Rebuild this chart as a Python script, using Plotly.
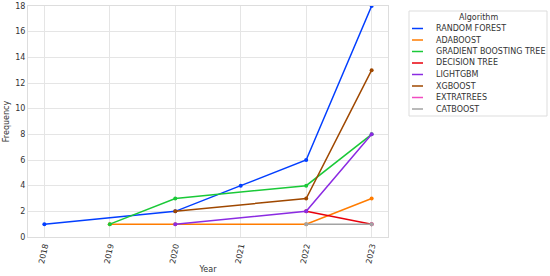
import plotly.graph_objects as go

# ------------------------------------------------------------
# Data
# ------------------------------------------------------------
algorithms = ["RANDOM FOREST", "ADABOOST", "GRADIENT BOOSTING TREE", "DECISION TREE",
              "LIGHTGBM", "XGBOOST", "EXTRATREES", "CATBOOST"]
colors = ["#023eff", "#ff7c00", "#1ac938", "#e8000b", "#8b2be2", "#9f4800", "#f14cc1", "#a3a3a3"]

rf_years = [2018, 2020, 2021, 2022, 2023]
rf_freq = [1, 2, 4, 6, 18]
ada_years = [2019, 2020, 2022, 2023]
ada_freq = [1, 1, 1, 3]
gbt_years = [2019, 2020, 2022, 2023]
gbt_freq = [1, 3, 4, 8]
dt_years = [2022, 2023]
dt_freq = [2, 1]
lgbm_years = [2020, 2022, 2023]
lgbm_freq = [1, 2, 8]
xgb_years = [2020, 2022, 2023]
xgb_freq = [2, 3, 13]
et_years = [2023]
et_freq = [1]
cat_years = [2022, 2023]
cat_freq = [1, 1]

series = [(rf_years, rf_freq), (ada_years, ada_freq), (gbt_years, gbt_freq), (dt_years, dt_freq),
          (lgbm_years, lgbm_freq), (xgb_years, xgb_freq), (et_years, et_freq), (cat_years, cat_freq)]

year_ticks = [2018, 2019, 2020, 2021, 2022, 2023]
freq_ticks = [0, 2, 4, 6, 8, 10, 12, 14, 16, 18]

FONT = "DejaVu Sans"
TXT = "#333333"

fig = go.Figure()
for name, col, (xs, ys) in zip(algorithms, colors, series):
    fig.add_trace(go.Scatter(x=xs, y=ys, mode="lines+markers", name=name,
                             line=dict(color=col, width=1.5),
                             marker=dict(color=col, size=4), showlegend=False))

# ------------------------------------------------------------
# Custom compact legend (seaborn-like)
# ------------------------------------------------------------
L, T, W, H = 28, 6, 360, 231   # plot area in px
def px(x): return (x - L) / W
def py(y): return (T + H - y) / H

fig.add_shape(type="rect", xref="paper", yref="paper", x0=px(409), x1=px(547), y0=py(11), y1=py(116),
              line=dict(color="#dddddd", width=1), fillcolor="white", layer="below")
fig.add_annotation(xref="paper", yref="paper", x=px(478), y=py(17.5), text="Algorithm", showarrow=False,
                   font=dict(family=FONT, size=8, color=TXT), xanchor="center", yanchor="middle")
for i, (name, col) in enumerate(zip(algorithms, colors)):
    yy = 28.5 + i * 11.5
    fig.add_shape(type="line", xref="paper", yref="paper", x0=px(412), x1=px(423), y0=py(yy), y1=py(yy),
                  line=dict(color=col, width=1.5))
    fig.add_annotation(xref="paper", yref="paper", x=px(434), y=py(yy), text=name, showarrow=False,
                       font=dict(family=FONT, size=8, color=TXT), xanchor="left", yanchor="middle")

fig.update_xaxes(range=[2017.75, 2023.25], tickvals=year_ticks, tickangle=-78,
                 showgrid=True, gridcolor="#e5e5e5", gridwidth=1,
                 showline=True, linecolor="#dddddd", mirror=True, zeroline=False,
                 tickfont=dict(family=FONT, size=8, color=TXT),
                 title=dict(text="Year", font=dict(family=FONT, size=8, color=TXT), standoff=2))
fig.update_yaxes(range=[0, 18], tickvals=freq_ticks,
                 showgrid=True, gridcolor="#e5e5e5", gridwidth=1,
                 showline=True, linecolor="#dddddd", mirror=True, zeroline=False,
                 tickfont=dict(family=FONT, size=8, color=TXT),
                 title=dict(text="Frequency", font=dict(family=FONT, size=8, color=TXT), standoff=4))

fig.update_layout(width=550, height=276, template="plotly_white",
                  plot_bgcolor="white", paper_bgcolor="white", showlegend=False,
                  margin=dict(l=L, r=550 - L - W, t=T, b=276 - T - H, autoexpand=False),
                  font=dict(family=FONT, size=8, color=TXT))

fig.write_html("out.html", config={"displayModeBar": False},
               post_script="document.body.style.margin='0';")
